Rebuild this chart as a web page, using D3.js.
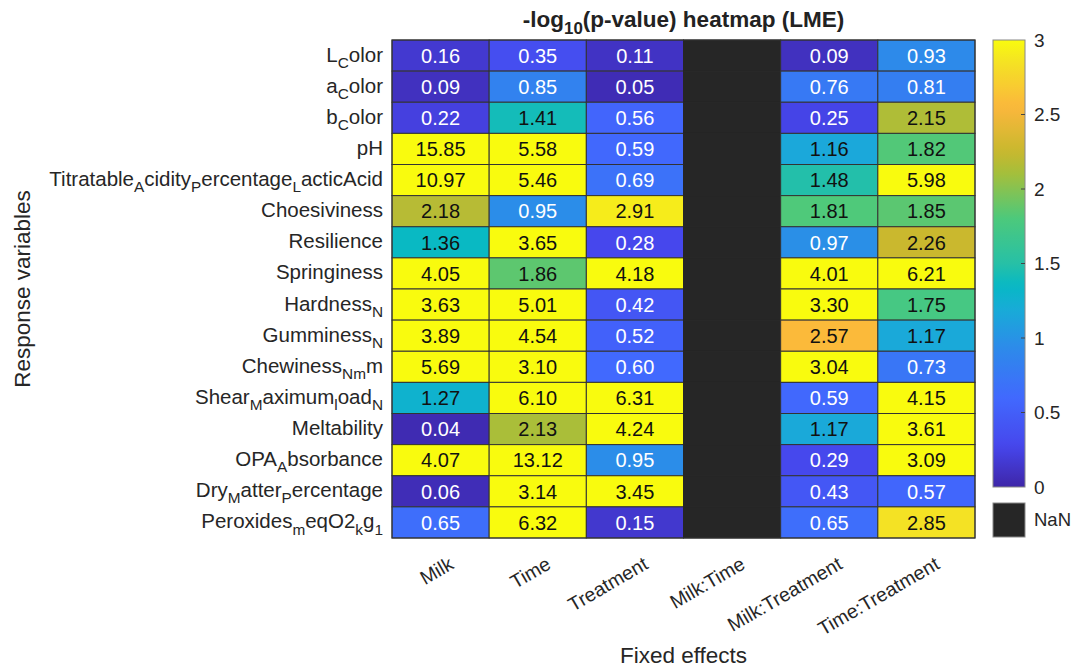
<!DOCTYPE html>
<html>
<head>
<meta charset="utf-8">
<script src="https://cdn.jsdelivr.net/npm/d3@7"></script>
<style>
  html, body { margin: 0; padding: 0; background: #fff; }
  svg { display: block; font-family: "Liberation Sans", Arial, sans-serif; }
</style>
</head>
<body>
<svg id="chart" width="1077" height="668"></svg>
<script>
// ── Data ─────────────────────────────────────────────────────
const responses = [
  'L_Color', 'a_Color', 'b_Color', 'pH', 'Titratable_Acidity_Percentage_LacticAcid',
  'Choesiviness', 'Resilience', 'Springiness', 'Hardness_N', 'Gumminess_N',
  'Chewiness_N_mm', 'Shear_Maximum_load_N', 'Meltability', 'OPA_Absorbance',
  'Dry_Matter_Percentage', 'Peroxides_meqO2_kg_1'
];
const effects = ['Milk', 'Time', 'Treatment', 'Milk:Time', 'Milk:Treatment', 'Time:Treatment'];

// -log10(p) per fixed effect, one value per response variable (NaN = not estimated)
const milk          = [0.16, 0.09, 0.22, 15.85, 10.97, 2.18, 1.36, 4.05, 3.63, 3.89, 5.69, 1.27, 0.04, 4.07, 0.06, 0.65];
const time          = [0.35, 0.85, 1.41, 5.58, 5.46, 0.95, 3.65, 1.86, 5.01, 4.54, 3.10, 6.10, 2.13, 13.12, 3.14, 6.32];
const treatment     = [0.11, 0.05, 0.56, 0.59, 0.69, 2.91, 0.28, 4.18, 0.42, 0.52, 0.60, 6.31, 4.24, 0.95, 3.45, 0.15];
const milkTime      = responses.map(() => NaN);
const milkTreatment = [0.09, 0.76, 0.25, 1.16, 1.48, 1.81, 0.97, 4.01, 3.30, 2.57, 3.04, 0.59, 1.17, 0.29, 0.43, 0.65];
const timeTreatment = [0.93, 0.81, 2.15, 1.82, 5.98, 1.85, 2.26, 6.21, 1.75, 1.17, 0.73, 4.15, 3.61, 3.09, 0.57, 2.85];

const colorTicks = [0, 0.5, 1, 1.5, 2, 2.5, 3];

// parula-like colormap anchors
const parulaStops = ['#3e26a8', '#4646ec', '#4169fe', '#2d8aea', '#1aa9d9', '#07b9c5',
                     '#27c0a6', '#4cc97c', '#a3bf3c', '#c8b82e', '#fbb73c', '#f4e224', '#f9fb0e'];
const parulaPos   = [0, 0.09, 0.2, 0.31, 0.39, 0.45, 0.5, 0.6, 0.7, 0.75, 0.85, 0.95, 1];

const columns = [milk, time, treatment, milkTime, milkTreatment, timeTreatment];
const cells = [];
effects.forEach((e, j) => {
  responses.forEach((r, i) => cells.push({ r, e, v: columns[j][i] }));
});

// ── Layout ───────────────────────────────────────────────────
const svg = d3.select('#chart');
const plot = { left: 392, right: 975, top: 40, bottom: 538 };
const cbar = { x: 993, w: 32, top: 40, bottom: 487 };

const x = d3.scaleBand().domain(effects).range([plot.left, plot.right]);
const y = d3.scaleBand().domain(responses).range([plot.top, plot.bottom]);

const norm = d3.scaleLinear().domain([0, 3]).range([0, 1]).clamp(true);
const ramp = d3.scaleLinear().domain(parulaPos).range(parulaStops).interpolate(d3.interpolateRgb);
const color = v => isNaN(v) ? '#262626' : ramp(norm(v));
const textColor = v => {
  const c = d3.rgb(color(v));
  const lum = (0.299 * c.r + 0.587 * c.g + 0.114 * c.b) / 255;
  return lum > 0.5 ? '#111' : '#fff';
};

// Write a TeX-ish label ("_X" makes one char subscript) into a <text>
function texLabel(textEl, s, size) {
  const parts = [];
  for (let i = 0; i < s.length; i++) {
    if (s[i] === '_' && i + 1 < s.length) {
      if (s[i + 1] === '{') {
        const end = s.indexOf('}', i);
        parts.push({ t: s.slice(i + 2, end), sub: true });
        i = end;
      } else {
        parts.push({ t: s[i + 1], sub: true });
        i++;
      }
    } else {
      const last = parts[parts.length - 1];
      if (last && !last.sub) last.t += s[i];
      else parts.push({ t: s[i], sub: false });
    }
  }
  let shifted = false;
  parts.forEach(p => {
    const ts = textEl.append('tspan').text(p.t);
    if (p.sub) {
      ts.attr('font-size', size * 0.75);
      if (!shifted) { ts.attr('dy', size * 0.3); shifted = true; }
    } else {
      ts.attr('font-size', size);
      if (shifted) { ts.attr('dy', -size * 0.3); shifted = false; }
    }
  });
}

// ── Title ────────────────────────────────────────────────────
const title = svg.append('text')
  .attr('x', (plot.left + plot.right) / 2).attr('y', 27)
  .attr('text-anchor', 'middle').attr('font-weight', 'bold').attr('fill', '#222');
texLabel(title, '-log_{10}(p-value) heatmap (LME)', 22.5);

// ── Cells ────────────────────────────────────────────────────
const cellG = svg.append('g');
cellG.selectAll('rect')
  .data(cells)
  .join('rect')
  .attr('x', d => x(d.e)).attr('y', d => y(d.r))
  .attr('width', x.bandwidth()).attr('height', y.bandwidth())
  .attr('fill', d => color(d.v))
  .attr('stroke', d => isNaN(d.v) ? '#262626' : '#333')
  .attr('stroke-width', 1);

cellG.selectAll('text')
  .data(cells.filter(d => !isNaN(d.v)))
  .join('text')
  .attr('x', d => x(d.e) + x.bandwidth() / 2)
  .attr('y', d => y(d.r) + y.bandwidth() / 2)
  .attr('dy', '0.36em')
  .attr('text-anchor', 'middle')
  .attr('font-size', 20)
  .attr('fill', d => textColor(d.v))
  .text(d => d.v.toFixed(2));

svg.append('rect')
  .attr('x', plot.left).attr('y', plot.top)
  .attr('width', plot.right - plot.left).attr('height', plot.bottom - plot.top)
  .attr('fill', 'none').attr('stroke', '#333');

// ── Y labels ─────────────────────────────────────────────────
svg.append('g').selectAll('text')
  .data(responses)
  .join('text')
  .attr('x', plot.left - 9)
  .attr('y', d => y(d) + y.bandwidth() / 2 + 6)
  .attr('text-anchor', 'end')
  .attr('fill', '#262626')
  .each(function(d) { texLabel(d3.select(this), d, 20.5); });

// ── X labels ─────────────────────────────────────────────────
svg.append('g').selectAll('text')
  .data(effects)
  .join('text')
  .attr('transform', d => `translate(${x(d) + x.bandwidth() / 2 + 11},${plot.bottom + 24}) rotate(-30)`)
  .attr('text-anchor', 'end')
  .attr('dy', '0.35em')
  .attr('font-size', 19.5)
  .attr('fill', '#262626')
  .text(d => d);

// ── Axis titles ──────────────────────────────────────────────
svg.append('text')
  .attr('x', (plot.left + plot.right) / 2).attr('y', 663)
  .attr('text-anchor', 'middle').attr('font-size', 22.5).attr('fill', '#262626')
  .text('Fixed effects');

svg.append('text')
  .attr('transform', `translate(30,${(plot.top + plot.bottom) / 2}) rotate(-90)`)
  .attr('text-anchor', 'middle').attr('font-size', 22.5).attr('fill', '#262626')
  .text('Response variables');

// ── Colorbar ─────────────────────────────────────────────────
const grad = svg.append('defs').append('linearGradient')
  .attr('id', 'cbgrad').attr('x1', 0).attr('y1', 1).attr('x2', 0).attr('y2', 0);
d3.range(0, 1.0001, 0.02).forEach(t => {
  grad.append('stop').attr('offset', t).attr('stop-color', ramp(t));
});

const cy = d3.scaleLinear().domain([0, 3]).range([cbar.bottom, cbar.top]);
svg.append('rect')
  .attr('x', cbar.x).attr('y', cbar.top)
  .attr('width', cbar.w).attr('height', cbar.bottom - cbar.top)
  .attr('fill', 'url(#cbgrad)').attr('stroke', '#888');

const cbAxis = svg.append('g')
  .attr('transform', `translate(${cbar.x + cbar.w},0)`)
  .call(d3.axisRight(cy).tickValues(colorTicks).tickSize(0).tickPadding(9)
    .tickFormat(d => d3.format('')(d)));
cbAxis.select('.domain').remove();
cbAxis.selectAll('text').attr('font-size', 19).attr('fill', '#262626')
  .attr('font-family', '"Liberation Sans", Arial, sans-serif');
svg.append('g').selectAll('line')
  .data(colorTicks.slice(1, -1))
  .join('line')
  .attr('x1', cbar.x + cbar.w - 4).attr('x2', cbar.x + cbar.w)
  .attr('y1', d => cy(d)).attr('y2', d => cy(d))
  .attr('stroke', '#444').attr('stroke-width', 1);

// NaN swatch
svg.append('rect')
  .attr('x', cbar.x).attr('y', 503)
  .attr('width', cbar.w).attr('height', 34)
  .attr('fill', '#262626').attr('stroke', '#888');
svg.append('text')
  .attr('x', cbar.x + cbar.w + 9).attr('y', 520).attr('dy', '0.35em')
  .attr('font-size', 18.5).attr('fill', '#262626')
  .text('NaN');
</script>
</body>
</html>
